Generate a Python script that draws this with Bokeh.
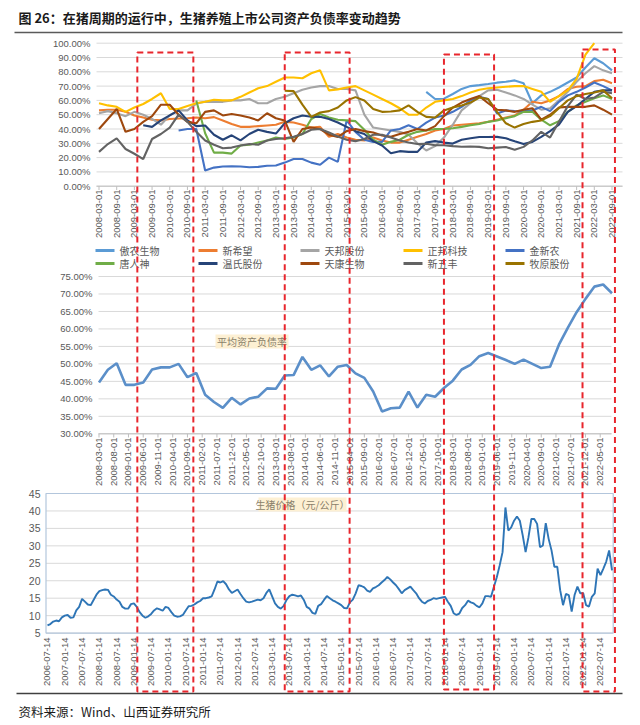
import numpy as np
from bokeh.plotting import figure
from bokeh.models import Range1d
from bokeh.core.properties import value
from bokeh.embed import file_html
from bokeh.resources import INLINE

# ---------------------------------------------------------------- texts
TITLE = "图 26：在猪周期的运行中，生猪养殖上市公司资产负债率变动趋势"
SOURCE = "资料来源：Wind、山西证券研究所"
AVG_LABEL = "平均资产负债率"
PRICE_LABEL = "生猪价格（元/公斤）"

# ---------------------------------------------------------------- panel 1 : company debt ratios (quarterly, %)
P1_QUARTERS = [f"{2008 + (2 + 3 * i) // 12}-{(2 + 3 * i) % 12 + 1:02d}" for i in range(59)]  # 2008-03 .. 2022-09
COMPANIES = ["傲农生物", "新希望", "天邦股份", "正邦科技", "金新农",
             "唐人神", "温氏股份", "天康生物", "新五丰", "牧原股份"]
COLORS = ["#5b9bd5", "#ed7d31", "#a5a5a5", "#ffc000", "#4472c4",
          "#70ad47", "#264478", "#9e480e", "#636363", "#997300"]

AONONG = [None] * 37 + [66, 61, 61.2, 64.5, 68, 70, 70.7, 71.5, 72.4, 73,
                        74, 72, 58, 63.5, 66, 69, 72.5, 76, 83, 89.5, 86, 81]
XINXIWANG = [53, 53.5, 53.5, 52, 49.5, 48, 46.5, 46, 47, 47.3,
             47.5, 48, 47.5, 48.3, 46, 43.5, 41.5, 41.5, 42, 42.5,
             43, 45, 44.5, 43, 41, 41.5, 34.5, 36.5, 34, 32.5,
             32, 34, 32, 30.5, 30.5, 32.5, 34.5, 36.5, 39, 40,
             42.5, 43, 43.5, 44, 45, 46.5, 48, 49.5, 53.5, 59,
             58, 60, 63, 68, 69.5, 70, 73.5, 74.5, 72]
TIANBANG = [51, 52.5, 51, 49, 52, 50, 47, 43, 49.6, 53,
            53, 57.8, 59, 59, 59, 60, 60, 61, 58, 58,
            61, 62.5, 65, 67.5, 69, 70, 70, 68, 68, 67,
            50, 41, 40, 39, 38, 36, 30, 25, 28, 34,
            43, 53, 58, 63, 67, 67.5, 65.5, 63.5, 61, 57,
            53.5, 54.5, 60, 66, 73, 79, 84, 81, 79]
ZHENGBANG = [58, 56.5, 55.5, 52, 55, 57.5, 61, 65, 54, 54,
             56, 58, 59, 60.5, 60, 60, 62.5, 65.5, 68.5, 70,
             73, 76, 76, 75.5, 79, 81, 67, 67.7, 69, 70,
             67, 64, 61, 58, 54.5, 50, 50, 55, 59, 60,
             61, 63, 65.5, 67.5, 68.5, 69, 69.5, 70, 70, 68,
             66, 59, 63, 67, 75, 92, 100, None, None]
JINXINNONG = [None] * 9 + [39, 40, 40, 11, 13, 13.8, 14, 13.8, 13.3, 13.5,
                           14.3, 14.5, 16.5, 19, 19, 16.5, 15, 20, 17, 46,
                           38, 32.5, 31, 31, 39, 40, 42.6, 40, 44.5, 48,
                           49.5, 52, 55.5, 60, 62.5, 61, 50.8, 53, 52.5, 52.3,
                           53, 55.5, 52.5, 59, 63.5, 66, 69, 72.5, 70, 67]
TANGRENSHEN = [None] * 11 + [60, 37, 23.5, 23.5, 22.8, 28.5, 29, 30.5, 32, 34,
                             33, 34, 36.5, 47, 50.5, 48, 46.5, 46, 45.5, 39.5,
                             32.5, 29, 31, 32.5, 36, 38, 39, 40, 40, 40.5,
                             41.5, 42.6, 43.5, 45, 46, 47.5, 49, 52, 52, 46.5,
                             42.6, 45.5, 52, 56.5, 59, 61.5, 63.5, 61]
WENS = [None] * 5 + [42.6, 41.5, 46, 49.5, 53, 46, 42, 42.5, 36, 32.5,
                     35.6, 32, 36.5, 39.5, 38, 36.8, 44, 47.5, 49.5, 48.6,
                     48.5, 47, 44.5, 41.5, 38.5, 36.5, 31.5, 28.5, 23, 24.5,
                     24, 24, 30.5, 31.5, 30.5, 29.8, 32.5, 33.5, 34.4, 34.4,
                     34.5, 33.5, 31.4, 29.5, 31, 34.5, 38.5, 43, 52, 56,
                     61, 66, 67, 67]
TIANKANG = [40, 47, 54, 38, 40, 45, 49, 57, 57, 50,
            45, 44, 52, 53, 49.5, 50.5, 49.5, 48, 46, 51,
            47.5, 46, 31, 40, 41, 40, 36, 34.5, 38.5, 40,
            38.5, 37.5, 35.5, 34.5, 36.5, 38, 40, 39, 42, 49,
            55, 58.5, 61, 63, 58, 53.5, 53, 52, 53.5, 54.5,
            46.5, 50, 55, 55.5, 55.5, 55.5, 56.5, 53.5, 50]
XINWUFENG = [24, 29.5, 33.5, 26, 22.7, 19, 33, 36.5, 41, 50,
             45, 38, 32, 29, 26.5, 27, 28.5, 29.5, 29, 32,
             33, 33.5, 34.5, 36.5, 39.5, 40, 37.5, 34.8, 32.5, 31.5,
             33, 36, 36, 34, 32, 30.5, 29.5, 29.7, 28.6, 28.6,
             28, 27.6, 27.8, 27.5, 26.5, 27, 27.4, 25.5, 27.5, 32,
             38, 34, 45, 56, 64, 61, 62, 66, 65]
MUYUAN = [None] * 21 + [66.7, 66.5, 57, 48.5, 51.5, 52.5, 55, 60, 62.3, 60,
                        54, 52, 52.2, 53, 56.5, 52, 48.5, 48, 53, 55,
                        56.5, 58.5, 62, 61, 52, 44, 41, 43.5, 45, 46,
                        49, 54.5, 60, 63, 64.5, 65.5, 67, 61.5]
SERIES = [AONONG, XINXIWANG, TIANBANG, ZHENGBANG, JINXINNONG,
          TANGRENSHEN, WENS, TIANKANG, XINWUFENG, MUYUAN]

P1_YTICKS = [0, 10, 20, 30, 40, 50, 60, 70, 80, 90, 100]
P1_YLABELS = ["0.00%", "10.00%", "20.00%", "30.00%", "40.00%", "50.00%",
              "60.00%", "70.00%", "80.00%", "90.00%", "100.00%"]
P1_XLABELS = [f"{2008 + (2 + 6 * i) // 12}-{(2 + 6 * i) % 12 + 1:02d}-01" for i in range(30)]

# ---------------------------------------------------------------- panel 2 : average debt ratio (quarterly, %)
AVG_DEBT = [44.7, 48.3, 50.2, 44.0, 44.0, 44.7, 48.4, 49.0, 49.0, 50.0,
            46.2, 47.4, 41.2, 39.1, 37.4, 40.3, 38.4, 40.1, 40.6, 43.0,
            42.9, 46.7, 46.8, 52.0, 48.3, 49.6, 46.4, 49.2, 49.7, 47.3,
            46.0, 42.1, 36.4, 37.3, 37.5, 42.1, 37.5, 41.2, 40.6, 43.1,
            45.2, 48.4, 49.7, 52.2, 53.1, 52.1, 51.1, 50.0, 51.2, 50.0,
            48.8, 49.2, 55.5, 60.3, 64.8, 68.6, 72.1, 72.7, 70.2]
P2_YTICKS = [30, 35, 40, 45, 50, 55, 60, 65, 70, 75]
P2_YLABELS = ["30.00%", "35.00%", "40.00%", "45.00%", "50.00%",
              "55.00%", "60.00%", "65.00%", "70.00%", "75.00%"]
P2_XLABELS = [f"{2008 + (2 + 5 * i) // 12}-{(2 + 5 * i) % 12 + 1:02d}-01" for i in range(35)]

# ---------------------------------------------------------------- panel 3 : hog price (monthly, yuan/kg)
PRICE_START = (2006, 7)
PIG_PRICE = [7.2, 7.6, 8.3, 8.6, 8.4, 9.5,
             10.0, 10.2, 9.4, 9.5, 11.5, 12.5, 14.8, 14.0, 13.2, 13.0, 14.5, 16.0,
             17.0, 17.3, 17.5, 17.4, 16.0, 15.5, 14.6, 14.0, 12.5, 12.0, 12.0, 13.3,
             13.5, 12.5, 11.0, 10.0, 9.4, 9.8, 10.5, 11.5, 12.1, 11.8, 11.4, 12.5,
             12.2, 11.0, 10.0, 9.7, 9.8, 10.2, 11.5, 12.7, 12.8, 13.2, 13.8, 14.2,
             15.0, 15.0, 15.2, 15.5, 17.5, 19.8, 19.5, 19.9, 19.0, 17.5, 16.5, 17.0,
             17.5, 16.2, 15.0, 14.0, 13.8, 14.0, 14.3, 14.6, 14.4, 15.0, 16.5, 17.5,
             15.5, 13.5, 12.5, 12.0, 12.8, 14.5, 15.6, 16.0, 15.8, 15.5, 15.8, 14.5,
             12.5, 12.0, 10.8, 10.5, 12.8, 13.3, 14.5, 15.6, 15.0, 14.4, 14.0, 13.5,
             13.0, 12.2, 12.1, 13.8, 14.6, 16.4, 18.7, 18.5, 18.1, 17.2, 16.8, 17.8,
             18.2, 18.7, 19.5, 20.2, 21.1, 20.4, 19.5, 18.7, 17.6, 16.4, 17.3, 17.8,
             18.3, 17.3, 16.4, 15.0, 14.0, 13.5, 14.2, 14.5, 15.0, 14.8, 15.0, 15.2,
             15.4, 14.0, 12.8, 10.7, 10.2, 10.6, 12.2, 13.0, 14.3, 13.8, 13.5, 12.8,
             12.4, 13.5, 15.6, 15.6, 15.4, 18.3, 21.0, 24.4, 28.2, 41.0, 34.4, 35.3,
             37.2, 38.4, 37.2, 33.0, 28.2, 32.5, 37.7, 37.7, 36.3, 29.6, 30.1, 36.5,
             32.0, 28.7, 24.0, 24.0, 17.3, 13.0, 16.2, 15.9, 11.2, 15.9, 18.3, 16.4,
             16.4, 13.0, 12.6, 15.4, 16.4, 23.5, 21.6, 23.5, 25.5, 28.7, 23.0]
P3_YTICKS = [5, 10, 15, 20, 25, 30, 35, 40, 45]
P3_YLABELS = ["5", "10", "15", "20", "25", "30", "35", "40", "45"]
P3_XLABELS = [f"{2006 + (6 + 6 * i) // 12}-{(6 + 6 * i) % 12 + 1:02d}-14" for i in range(33)]

# ---------------------------------------------------------------- highlighted cycle periods
CYCLE_PERIODS = [("2009-04", "2010-11"), ("2013-06", "2015-04"),
                 ("2017-12", "2019-05"), ("2021-11", "2022-10")]


# ================================================================ helpers
def month_index(s):
    return (int(s[:4]) - 2008) * 12 + (int(s[5:7]) - 3)


def frac_year(s):
    return int(s[:4]) + (int(s[5:7]) - 1) / 12 + (int(s[8:10]) - 1) / 365


W, H = 632, 720
PX0, PY0 = 0, 0          # canvas top-left in page coordinates
BOT = PY0 + H            # page y of canvas bottom


def Y(img_y):            # base coordinate (upwards) from page y
    return BOT - img_y


def lin_range(va, pa, vb, pb, plo, phi):
    s = (vb - va) / (pb - pa)
    return Range1d(start=va + (plo - pa) * s, end=va + (phi - pa) * s)


p = figure(width=W, height=H, x_range=Range1d(PX0, PX0 + W), y_range=Range1d(0, H),
           output_backend="svg", toolbar_location=None,
           x_axis_location=None, y_axis_location=None, min_border=0)
p.grid.visible = False
p.outline_line_color = None
p.background_fill_color = "white"
p.border_fill_color = "white"

p.extra_x_ranges = {
    "m": lin_range(0, 98.5, 174, 611.5, PX0, PX0 + W),
    "t": lin_range(2006.536, 47, 2022.536, 600, PX0, PX0 + W),
}
p.extra_y_ranges = {
    "p1": lin_range(0, 185.7, 100, 42.7, BOT, PY0),
    "p2": lin_range(30, 433.3, 75, 276, BOT, PY0),
    "p3": lin_range(5, 632.6, 45, 493, BOT, PY0),
}

AX_FONT = "Liberation Sans"
CJK = "Noto Sans CJK SC"
GREY = "#595959"


def txt(xs, ys, texts, size, color=GREY, font=AX_FONT, align="left", baseline="middle",
        angle=0.0, style="normal", xr="default", yr="default"):
    p.text(x=xs, y=ys, text=texts, angle=angle, text_font=value(font),
           text_font_size=value(size), text_color=color, text_align=align,
           text_baseline=baseline, text_font_style=style,
           x_range_name=xr, y_range_name=yr)


# ---------------------------------------------------------------- header / footer
txt([18], [Y(17)], [TITLE], "13px", color="#1a1a1a", font=CJK, style="bold")
p.segment(x0=[14], x1=[622], y0=[Y(32)], y1=[Y(32)], line_color="#5a5a5a", line_width=1.6)
p.segment(x0=[16], x1=[622], y0=[Y(693)], y1=[Y(693)], line_color="#404040", line_width=1.6)
txt([18], [Y(711)], [SOURCE], "12.5px", color="#1a1a1a", font=CJK)

# ---------------------------------------------------------------- panel 1
p.segment(x0=[96] * len(P1_YTICKS), x1=[622] * len(P1_YTICKS), y0=P1_YTICKS, y1=P1_YTICKS,
          line_color="#d9d9d9", line_width=1, y_range_name="p1")
p.segment(x0=[96], x1=[622], y0=[0], y1=[0], line_color="#bfbfbf", line_width=1, y_range_name="p1")
p1_xt = [month_index(s) for s in P1_XLABELS]
p.segment(x0=p1_xt, x1=p1_xt, y0=[Y(185.7)] * len(p1_xt), y1=[Y(189.5)] * len(p1_xt),
          line_color="#bfbfbf", line_width=1, x_range_name="m")
txt([90] * len(P1_YTICKS), P1_YTICKS, P1_YLABELS, "9.5px", align="right", yr="p1")
txt(p1_xt, [Y(189)] * len(p1_xt), P1_XLABELS, "9.5px", align="right", angle=np.pi / 2, xr="m")

q_x = [month_index(s) for s in P1_QUARTERS]
for vals, col in zip(SERIES, COLORS):
    p.line(q_x, np.array(vals, dtype=float), line_color=col, line_width=2.1,
           x_range_name="m", y_range_name="p1")

# legend
LEG_X = [95, 198, 300, 403, 505]
LEG_Y = [250, 263]
for k, (name, col) in enumerate(zip(COMPANIES, COLORS)):
    lx, ly = LEG_X[k % 5], LEG_Y[k // 5]
    p.segment(x0=[lx], x1=[lx + 19], y0=[Y(ly)], y1=[Y(ly)], line_color=col, line_width=3)
    txt([lx + 24], [Y(ly)], [name], "10px", font=CJK)

# ---------------------------------------------------------------- panel 2
p.segment(x0=[98] * len(P2_YTICKS), x1=[611] * len(P2_YTICKS), y0=P2_YTICKS, y1=P2_YTICKS,
          line_color="#d9d9d9", line_width=1, y_range_name="p2")
p.segment(x0=[98], x1=[611], y0=[30], y1=[30], line_color="#bfbfbf", line_width=1, y_range_name="p2")
p2_xt = [month_index(s) for s in P2_XLABELS]
p.segment(x0=p2_xt, x1=p2_xt, y0=[Y(433.3)] * len(p2_xt), y1=[Y(437)] * len(p2_xt),
          line_color="#bfbfbf", line_width=1, x_range_name="m")
txt([92] * len(P2_YTICKS), P2_YTICKS, P2_YLABELS, "9.5px", align="right", yr="p2")
txt(p2_xt, [Y(437)] * len(p2_xt), P2_XLABELS, "9.5px", align="right", angle=np.pi / 2, xr="m")
p.line(q_x, AVG_DEBT, line_color="#5b8fc9", line_width=2.6, x_range_name="m", y_range_name="p2")
p.quad(left=[215], right=[288], top=[Y(334)], bottom=[Y(348)], fill_color="#fdf0d3", line_color=None)
txt([251.5], [Y(341)], [AVG_LABEL], "10px", color="#8a7f6a", font=CJK, align="center")

# ---------------------------------------------------------------- panel 3
p.segment(x0=[45.5] * len(P3_YTICKS), x1=[612.7] * len(P3_YTICKS), y0=P3_YTICKS, y1=P3_YTICKS,
          line_color="#d9d9d9", line_width=1, y_range_name="p3")
p.quad(left=[45.5], right=[612.7], top=[45], bottom=[5], fill_color=None,
       line_color="#b3c6dc", line_width=1.2, y_range_name="p3")
txt([40] * len(P3_YTICKS), P3_YTICKS, P3_YLABELS, "10.5px", align="right", yr="p3")
p3_xt = [frac_year(s) for s in P3_XLABELS]
txt(p3_xt, [Y(637)] * len(p3_xt), P3_XLABELS, "9.5px", align="right", angle=np.pi / 2, xr="t")
price_t = [PRICE_START[0] + (PRICE_START[1] - 1 + i) / 12 + 13 / 365 for i in range(len(PIG_PRICE))]
p.line(price_t, PIG_PRICE, line_color="#2e75b6", line_width=1.9, x_range_name="t", y_range_name="p3")
p.quad(left=[258], right=[346], top=[Y(497)], bottom=[Y(511)], fill_color="#fdf0d3", line_color=None)
txt([302], [Y(504)], [PRICE_LABEL], "10px", color="#8a7f6a", font=CJK, align="center")

# ---------------------------------------------------------------- cycle highlight boxes
BOX_TOP = [52, 52, 54, 49]
BOX_BOT = [691, 691, 689, 691]
p.quad(left=[month_index(a) for a, b in CYCLE_PERIODS],
       right=[month_index(b) for a, b in CYCLE_PERIODS],
       top=[Y(v) for v in BOX_TOP], bottom=[Y(v) for v in BOX_BOT],
       fill_color=None, line_color="#e8262d", line_width=2, line_dash="6 4",
       x_range_name="m")

open("out.html", "w").write(file_html(p, INLINE))
